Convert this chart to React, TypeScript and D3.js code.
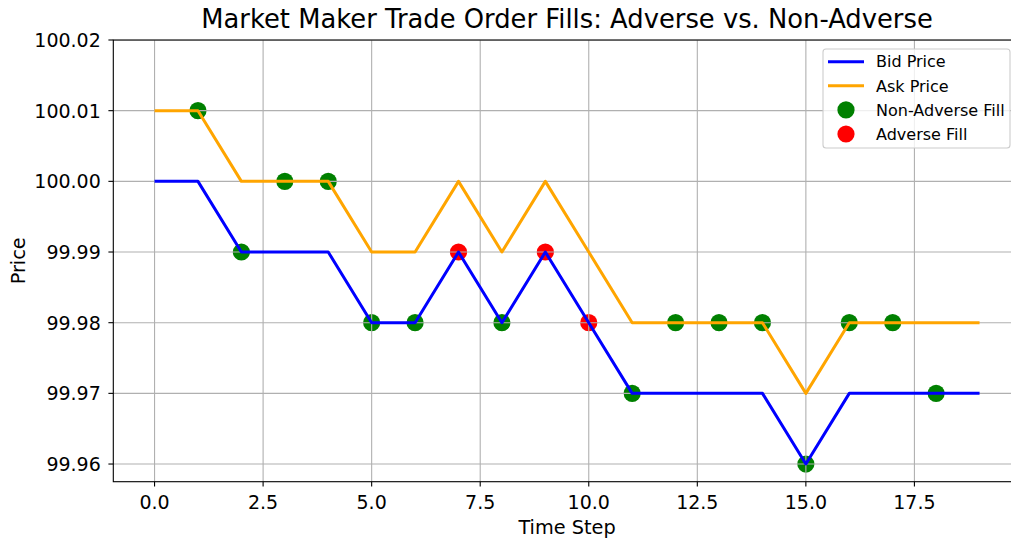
import React from 'react'
import * as d3 from 'd3'

const steps = d3.range(20)
const bid = [100.0, 100.0, 99.99, 99.99, 99.99, 99.98, 99.98, 99.99, 99.98, 99.99, 99.98, 99.97, 99.97, 99.97, 99.97, 99.96, 99.97, 99.97, 99.97, 99.97]
const ask = [100.01, 100.01, 100.0, 100.0, 100.0, 99.99, 99.99, 100.0, 99.99, 100.0, 99.99, 99.98, 99.98, 99.98, 99.98, 99.97, 99.98, 99.98, 99.98, 99.98]
const goodT = [1, 2, 3, 4, 5, 6, 8, 11, 12, 13, 14, 15, 16, 17, 18]
const goodP = [100.01, 99.99, 100.0, 100.0, 99.98, 99.98, 99.98, 99.97, 99.98, 99.98, 99.98, 99.96, 99.98, 99.98, 99.97]
const badT = [7, 9, 10]
const badP = [99.99, 99.99, 99.98]
const xTicks = [0, 2.5, 5, 7.5, 10, 12.5, 15, 17.5]
const yTicks = [99.96, 99.97, 99.98, 99.99, 100.0, 100.01, 100.02]

const W = 1011
const H = 538
const left = 113.3
const right = 1020.8
const top = 40
const bottom = 481.7
const font = 'DejaVu Sans, sans-serif'

export default function App() {
  const x = d3.scaleLinear().domain([-0.95, 19.95]).range([left, right])
  const y = d3.scaleLinear().domain([99.9575, 100.02]).range([bottom, top])
  const line = d3
    .line<number>()
    .x((_, i) => x(steps[i]))
    .y((d) => y(d))

  const legendItems = [
    { label: 'Bid Price', kind: 'line', color: 'blue' },
    { label: 'Ask Price', kind: 'line', color: 'orange' },
    { label: 'Non-Adverse Fill', kind: 'dot', color: 'green' },
    { label: 'Adverse Fill', kind: 'dot', color: 'red' },
  ]

  return (
    <svg width={W} height={H} style={{ position: 'absolute', left: 0, top: 0, background: '#fff' }} fontFamily={font}>
      <defs>
        <clipPath id="plot">
          <rect x={left} y={top} width={right - left} height={bottom - top} />
        </clipPath>
      </defs>
      <g clipPath="url(#plot)">
        {goodT.map((t, i) => (
          <circle key={'g' + i} cx={x(t)} cy={y(goodP[i])} r={8.6} fill="green" />
        ))}
        {badT.map((t, i) => (
          <circle key={'b' + i} cx={x(t)} cy={y(badP[i])} r={8.6} fill="red" />
        ))}
        {xTicks.map((t) => (
          <line key={'gx' + t} x1={x(t)} x2={x(t)} y1={top} y2={bottom} stroke="#b0b0b0" strokeWidth={1.1} />
        ))}
        {yTicks.map((t) => (
          <line key={'gy' + t} x1={left} x2={right} y1={y(t)} y2={y(t)} stroke="#b0b0b0" strokeWidth={1.1} />
        ))}
        <path d={line(bid) || ''} fill="none" stroke="blue" strokeWidth={3} strokeLinejoin="round" />
        <path d={line(ask) || ''} fill="none" stroke="orange" strokeWidth={3} strokeLinejoin="round" />
      </g>

      {/* spines */}
      <rect x={left} y={top} width={right - left} height={bottom - top} fill="none" stroke="#000" strokeWidth={1.1} />

      {xTicks.map((t) => (
        <g key={'tx' + t}>
          <line x1={x(t)} x2={x(t)} y1={bottom} y2={bottom + 4.9} stroke="#000" strokeWidth={1.1} />
          <text x={x(t)} y={bottom + 26.8} textAnchor="middle" fontSize={19} fill="#000">
            {t.toFixed(1)}
          </text>
        </g>
      ))}
      {yTicks.map((t) => (
        <g key={'ty' + t}>
          <line x1={left - 4.9} x2={left} y1={y(t)} y2={y(t)} stroke="#000" strokeWidth={1.1} />
          <text x={left - 12.5} y={y(t)} dy="0.36em" textAnchor="end" fontSize={19} fill="#000">
            {t.toFixed(2)}
          </text>
        </g>
      ))}

      <text x={(left + right) / 2} y={28.3} textAnchor="middle" fontSize={25.8} fill="#000">
        Market Maker Trade Order Fills: Adverse vs. Non-Adverse
      </text>
      <text x={(left + right) / 2} y={533.5} textAnchor="middle" fontSize={19.3} fill="#000">
        Time Step
      </text>
      <text transform={`translate(24.5, ${(top + bottom) / 2}) rotate(-90)`} textAnchor="middle" fontSize={19.3} fill="#000">
        Price
      </text>

      <g>
        <rect x={823} y={49} width={187} height={99} rx={3} fill="#fff" fillOpacity={0.8} stroke="#cccccc" strokeWidth={1.1} />
        {legendItems.map((d, i) => {
          const cy = 61.7 + i * 24.1
          return (
            <g key={d.label}>
              {d.kind === 'line' ? (
                <line x1={828} x2={864} y1={cy} y2={cy} stroke={d.color} strokeWidth={3} />
              ) : (
                <circle cx={846} cy={cy} r={8.6} fill={d.color} />
              )}
              <text x={876} y={cy} dy="0.36em" fontSize={16} fill="#000">
                {d.label}
              </text>
            </g>
          )
        })}
      </g>
    </svg>
  )
}
